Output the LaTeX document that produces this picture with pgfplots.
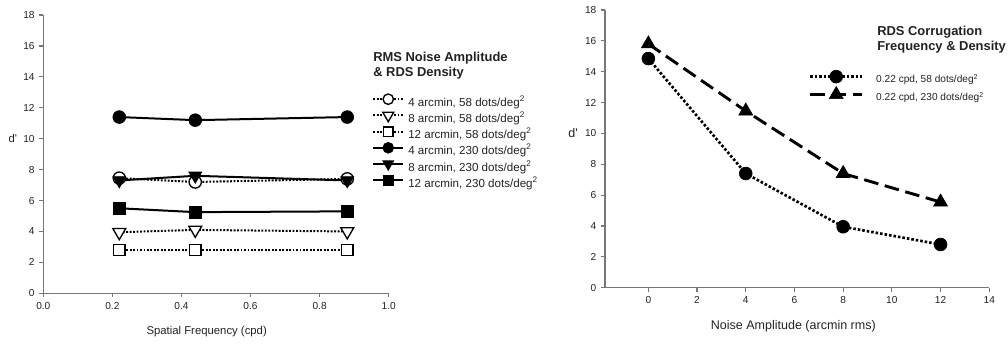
\documentclass[border=0pt]{standalone}
\usepackage{pgfplots}
\pgfplotsset{compat=1.18}
\usepackage{fontspec}
\setmainfont{Liberation Sans}
\definecolor{axgray}{HTML}{777777}
\definecolor{txt}{HTML}{222222}
\begin{document}
\begin{tikzpicture}
\useasboundingbox (0pt,0pt) rectangle (756pt,258.75pt);
\pgfplotsset{
  common/.style={
    scale only axis,
    axis lines=left,
    axis line style={-, axgray, line width=1.1pt},
    tick style={axgray, line width=0.9pt},
    tick align=outside,
    major tick length=3pt,
    ymin=0, ymax=18, ytick={0,2,...,18},
    /pgf/number format/assume math mode=true,
    tick label style={font=\fontsize{7.6}{9}\selectfont, text=txt},
    ylabel={d\textquotesingle},
    clip=false,
    legend cell align=left,
  },
  dotsL/.style={line width=1.5pt, dash pattern=on 1.4pt off 1.2pt},
  solidL/.style={line width=1.5pt, solid},
}
% ---------- left panel ----------
\begin{axis}[common,
  at={(32.475pt,38.775pt)}, anchor=south west,
  width=259.05pt, height=208.7pt,
  xmin=0, xmax=1, xtick={0,0.2,...,1.0},
  xticklabel style={/pgf/number format/.cd, fixed, fixed zerofill, precision=1},
  label style={font=\fontsize{8.5}{10}\selectfont, text=txt},
  xlabel={Spatial Frequency (cpd)},
  xlabel style={at={(axis description cs:0.473,-0.138)}, anchor=center},
  ylabel style={at={(axis description cs:-0.088,0.556)}, rotate=-90, anchor=center},
  legend style={draw=none, fill=none, font=\fontsize{8.7}{10}\selectfont,
    inner sep=0pt, nodes={inner sep=0pt, text height=6.3pt, text depth=1.8pt, text=txt},
    at={(axis description cs:0.9545,0.703)}, anchor=north west,
    row sep=4.05pt, /tikz/every odd column/.append style={column sep=3.75pt}},
  legend image code/.code={
    \path[draw=none,fill=none] (0pt,3.1pt) -- (22.5pt,3.1pt);
    \pgfinterruptboundingbox
    \draw[mark repeat=2,mark phase=2, every mark/.append style={scale=0.85}] plot coordinates {(0pt,3.1pt) (11.25pt,3.1pt) (22.5pt,3.1pt)};
    \endpgfinterruptboundingbox
  },
]
\addplot[black, dotsL, mark=*, mark size=4.6pt, mark options={solid, fill=white, line width=1pt}]
  coordinates {(0.22,7.45) (0.44,7.2) (0.88,7.4)};
\addlegendentry{4 arcmin, 58 dots/deg\textsuperscript{2}}
\addplot[black, dotsL, mark=triangle*, mark size=5.6pt, mark options={solid, rotate=180, fill=white, line width=1pt}]
  coordinates {(0.22,3.95) (0.44,4.1) (0.88,4.0)};
\addlegendentry{8 arcmin, 58 dots/deg\textsuperscript{2}}
\addplot[black, dotsL, mark=square*, mark size=4.2pt, mark options={solid, fill=white, line width=1pt}]
  coordinates {(0.22,2.8) (0.44,2.8) (0.88,2.8)};
\addlegendentry{12 arcmin, 58 dots/deg\textsuperscript{2}}
\addplot[black, solidL, mark=*, mark size=4.8pt, mark options={solid, fill=black, line width=0.5pt}]
  coordinates {(0.22,11.4) (0.44,11.2) (0.88,11.4)};
\addlegendentry{4 arcmin, 230 dots/deg\textsuperscript{2}}
\addplot[black, solidL, mark=triangle*, mark size=5.6pt, mark options={solid, rotate=180, fill=black, line width=0.5pt}]
  coordinates {(0.22,7.3) (0.44,7.6) (0.88,7.3)};
\addlegendentry{8 arcmin, 230 dots/deg\textsuperscript{2}}
\addplot[black, solidL, mark=square*, mark size=4.4pt, mark options={solid, fill=black, line width=0.5pt}]
  coordinates {(0.22,5.5) (0.44,5.25) (0.88,5.3)};
\addlegendentry{12 arcmin, 230 dots/deg\textsuperscript{2}}
\end{axis}
% ---------- right panel ----------
\begin{axis}[common,
  at={(453.75pt,42.975pt)}, anchor=south west,
  width=288.2pt, height=208.3pt,
  xmin=-1.78, xmax=14, xtick={0,2,...,14},
  label style={font=\fontsize{9.4}{11}\selectfont, text=txt},
  xlabel={Noise Amplitude (arcmin rms)},
  xlabel style={at={(axis description cs:0.49,-0.14)}, anchor=center},
  ylabel style={at={(axis description cs:-0.083,0.556)}, rotate=-90, anchor=center},
  legend style={draw=none, fill=none, font=\fontsize{7.6}{9}\selectfont,
    inner sep=0pt, nodes={inner sep=0pt, text height=5.5pt, text depth=1.6pt, text=txt},
    at={(axis description cs:0.5334,0.765)}, anchor=north west,
    row sep=6.4pt, /tikz/every odd column/.append style={column sep=10.5pt}},
  legend image code/.code={
    \path[draw=none,fill=none] (0pt,2.7pt) -- (39pt,2.7pt);
    \pgfinterruptboundingbox
    \draw[mark repeat=2,mark phase=2] plot coordinates {(0pt,2.7pt) (19.5pt,2.7pt) (39pt,2.7pt)};
    \endpgfinterruptboundingbox
  },
]
\addplot[black, line width=2pt, dash pattern=on 1.9pt off 1.5pt, mark=*, mark size=4.8pt, mark options={solid, fill=black, line width=0.5pt}]
  coordinates {(0,14.85) (4,7.4) (8,3.95) (12,2.8)};
\addlegendentry{0.22 cpd, 58 dots/deg\textsuperscript{2}}
\addplot[black, line width=2.2pt, dash pattern=on 11pt off 5pt, mark=triangle*, mark size=6pt, mark options={solid, fill=black, line width=0.5pt}]
  coordinates {(0,15.8) (4,11.45) (8,7.4) (12,5.55)};
\addlegendentry{0.22 cpd, 230 dots/deg\textsuperscript{2}}
\end{axis}
% ---------- legend titles ----------
\begin{scope}[every node/.style={anchor=west, inner sep=0pt, font=\fontsize{9.7}{11}\selectfont\bfseries, text=txt}]
\node at (279.75pt,215.25pt) {RMS Noise Amplitude};
\node at (279.75pt,204pt) {\& RDS Density};
\node at (657.75pt,234.75pt) {RDS Corrugation};
\node at (657.75pt,223.5pt) {Frequency \& Density};
\end{scope}
\end{tikzpicture}
\end{document}
